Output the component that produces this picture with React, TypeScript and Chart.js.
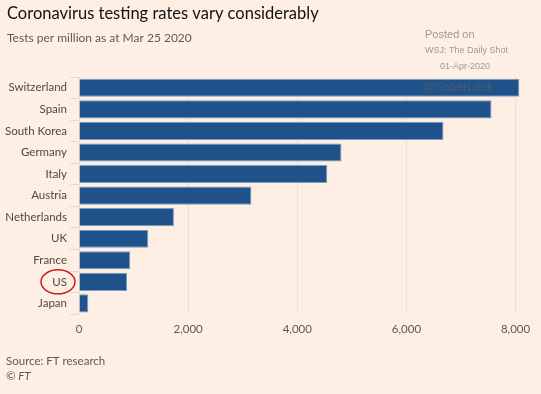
import React, { useEffect, useRef } from "react";
import { Chart, registerables } from "chart.js";

Chart.register(...registerables);

const countries = ["Switzerland", "Spain", "South Korea", "Germany", "Italy", "Austria", "Netherlands", "UK", "France", "US", "Japan"];
const testsPerMillion = [8070, 7560, 6680, 4810, 4550, 3160, 1740, 1270, 940, 880, 170];
const xTicks = [0, 2000, 4000, 6000, 8000];

const title = "Coronavirus testing rates vary considerably";
const subtitle = "Tests per million as at Mar 25 2020";
const source = "Source: FT research";
const credit = "© FT";
const posted = ["Posted on", "WSJ: The Daily Shot", "01-Apr-2020"];
const handle = "@SoberLook";
const highlighted = "US";

const FONT = "Lato, sans-serif";

const overlay = {
  id: "overlay",
  afterDraw(chart: any) {
    const ctx = chart.ctx;
    ctx.save();
    ctx.textBaseline = "middle";
    ctx.textAlign = "left";
    ctx.fillStyle = "#111111";
    ctx.font = `16.5px ${FONT}`;
    ctx.fillText(title, 7, 14);
    ctx.fillStyle = "#5e5955";
    ctx.font = `12px ${FONT}`;
    ctx.fillText(subtitle, 7, 38);
    ctx.font = `11.5px ${FONT}`;
    ctx.fillText(source, 6, 361);
    ctx.font = `italic 11.5px ${FONT}`;
    ctx.fillText(credit, 6, 376);
    ctx.fillStyle = "#9a9a9a";
    ctx.font = `11px 'Liberation Sans', sans-serif`;
    ctx.fillText(posted[0], 425, 35);
    ctx.font = `9px 'Liberation Sans', sans-serif`;
    ctx.fillText(posted[1], 425, 51);
    ctx.textAlign = "right";
    ctx.fillText(posted[2], 490, 67);
    ctx.textAlign = "left";
    ctx.fillStyle = "#4a5a6e";
    ctx.font = `12px 'Liberation Sans', sans-serif`;
    ctx.fillText(handle, 423, 88);
    const y = chart.scales.y.getPixelForValue(countries.indexOf(highlighted));
    ctx.strokeStyle = "#d11a1a";
    ctx.lineWidth = 1.5;
    ctx.beginPath();
    ctx.ellipse(58, y, 17, 12, 0, 0, Math.PI * 2);
    ctx.stroke();
    ctx.restore();
  },
};

const bg = {
  id: "bg",
  beforeDraw(chart: any) {
    const ctx = chart.ctx;
    ctx.save();
    ctx.fillStyle = "#fdefe4";
    ctx.fillRect(0, 0, chart.width, chart.height);
    ctx.restore();
  },
};

export default function App() {
  const ref = useRef<HTMLCanvasElement>(null);
  useEffect(() => {
    document.body.style.margin = "0";
    const chart = new Chart(ref.current!, {
      type: "bar",
      data: {
        labels: countries,
        datasets: [
          {
            data: testsPerMillion,
            backgroundColor: "#1f528a",
            borderColor: "#7f9dc0",
            borderWidth: 1,
            categoryPercentage: 0.84,
            barPercentage: 1,
          },
        ],
      },
      options: {
        indexAxis: "y",
        animation: false,
        responsive: false,
        layout: { padding: { top: 77, right: 20, bottom: 50, left: 0 } },
        plugins: { legend: { display: false }, tooltip: { enabled: false } },
        scales: {
          x: {
            min: 0,
            max: 8100,
            afterBuildTicks: (axis: any) => {
              axis.ticks = xTicks.map((v) => ({ value: v }));
            },
            grid: { color: "#ebe0d6", drawTicks: false, lineWidth: 1 },
            border: { display: false },
            ticks: {
              color: "#5e5955",
              font: { family: FONT, size: 11.5 },
              padding: 8,
              callback: (v: any) => Number(v).toLocaleString("en-US"),
            },
          },
          y: {
            afterFit: (axis: any) => {
              axis.width = 79;
            },
            grid: { drawOnChartArea: false, drawTicks: true, tickLength: 9, color: "#e3d8ce" },
            border: { display: false },
            ticks: {
              color: "#4d4845",
              font: { family: FONT, size: 11.5 },
              padding: 3,
            },
          },
        },
      },
      plugins: [bg, overlay],
    });
    return () => chart.destroy();
  }, []);
  return (
    <div style={{ width: 541, height: 394 }}>
      <canvas ref={ref} width={541} height={394} style={{ display: "block" }} />
    </div>
  );
}
